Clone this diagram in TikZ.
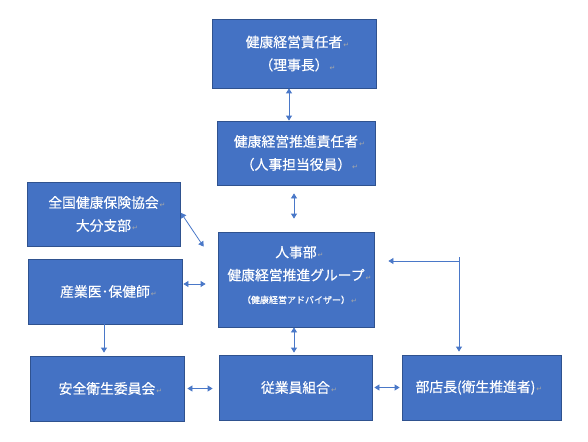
\documentclass[tikz,border=0pt]{standalone}
\usepackage{fontspec}
\setmainfont[FakeBold=0.4]{Noto Sans CJK JP}
\newfontfamily\markfont{DejaVu Sans}
\usepackage{tikz}
\usetikzlibrary{arrows.meta,calc}

\definecolor{boxblue}{HTML}{4472C4}
\definecolor{edgeblue}{HTML}{2F528F}
\definecolor{linkblue}{HTML}{4A78C8}
\definecolor{markgray}{HTML}{A8A8A8}

\newcommand{\pmark}{\rlap{\hspace{1pt}\textcolor{markgray}{\markfont\fontsize{7}{7}\selectfont ↵}}}

\begin{document}
\begin{tikzpicture}[ x={(1pt,0)}, y={(0,-1pt)},
  box/.style={draw=edgeblue, fill=boxblue, line width=0.8pt, text=white, align=center,
    inner sep=0pt, font=\fontsize{13.8}{23}\selectfont},
  link/.style={draw=linkblue, line width=0.8pt},
  >={Triangle[width=6pt,length=5pt]} ]

\useasboundingbox (0,0) rectangle (588,441);

%Boxes
\node[box, minimum width=164pt, minimum height=69pt] (sekinin) at (294,53.5)
     {健康経営責任者\pmark\\（理事長）\pmark};
\node[box, minimum width=158pt, minimum height=64pt] (suishin) at (296,153)
     {健康経営推進責任者\pmark\\（人事担当役員）\pmark};
\node[box, minimum width=153pt, minimum height=64pt] (kyokai) at (103.5,214)
     {全国健康保険協会\pmark\\大分支部\pmark};
\node[box, minimum width=156pt, minimum height=95pt] (jinji) at (296,279.5)
     {人事部\pmark\\健康経営推進グループ\pmark\\{\fontsize{9}{23}\selectfont（健康経営アドバイザー）\pmark}\\[-13pt]\mbox{}};
\node[box, minimum width=154pt, minimum height=65pt] (sangyoi) at (105,291.5)
     {産業医･保健師\pmark};
\node[box, minimum width=154pt, minimum height=65pt] (anzen) at (107,388.5)
     {安全衛生委員会\pmark};
\node[box, minimum width=153pt, minimum height=65pt] (kumiai) at (295.5,387.5)
     {従業員組合\pmark};
\node[box, minimum width=159pt, minimum height=65pt] (buten) at (481.5,387.5)
     {\hspace*{-12pt}部店長(衛生推進者)\pmark};

%Links
\draw[link,<->] ([xshift=-5pt]sekinin.south) -- ([xshift=-5pt]sekinin.south |- suishin.north);
\draw[link,<->,shorten <=8pt,shorten >=13pt] ([xshift=-2pt]suishin.south) -- ([xshift=-2pt]suishin.south |- jinji.north);

\path ($(jinji.north west)+(-14,15)$) coordinate (adv);
\draw[link,<->,shorten <=1pt] ([yshift=2pt]kyokai.east) -- (adv);
\draw[link,<->,shorten <=1pt,shorten >=12pt] ([yshift=7.5pt]sangyoi.east) -- ([yshift=7.5pt]sangyoi.east -| jinji.west);
\draw[link,->,shorten >=3pt] ([xshift=-1pt]sangyoi.south) -- ([xshift=-1pt]sangyoi.south |- anzen.north);

\draw[link,<->,shorten >=2pt] ([xshift=-2pt]jinji.south) -- ([xshift=-2pt]jinji.south |- kumiai.north);
\draw[link,<->,shorten <=3pt,shorten >=6pt] (anzen.east) -- (anzen.east -| kumiai.west);
\draw[link,<->,shorten <=2pt,shorten >=2pt] (kumiai.east) -- (kumiai.east -| buten.west);

% Branch to the branch managers
\path (459,261) coordinate (branch);
\draw[link,->,shorten >=14pt] (branch) -- (branch -| jinji.east);
\draw[link,->,shorten >=3pt] ([yshift=4pt]branch) -- (branch |- buten.north);

\end{tikzpicture}
\end{document}
